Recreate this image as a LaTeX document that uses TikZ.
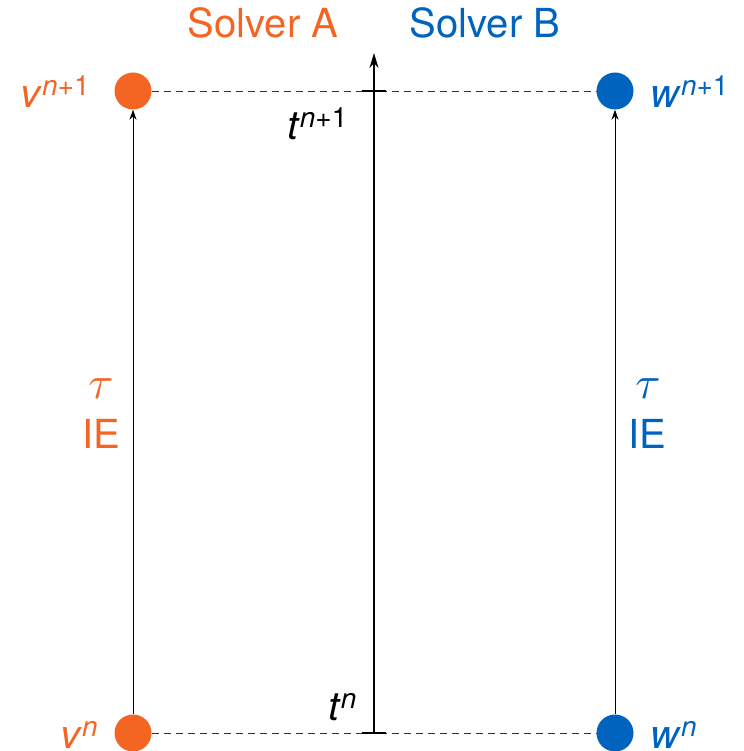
\documentclass[tikz,border=0pt]{standalone}
\usepackage{graphicx}
\usepackage{fontspec}
\setmainfont{TeX Gyre Heros}
\usetikzlibrary{arrows.meta}
\definecolor{solA}{RGB}{244,101,36}
\definecolor{solB}{RGB}{0,100,190}
\newcommand\supx[1]{\raisebox{12pt}{\fontsize{28}{32}\selectfont #1}}
\newcommand\bigtau{\scalebox{4.6}{\fontsize{10}{12}\selectfont$\tau$}}
\begin{document}
\begin{tikzpicture}[x=1pt,y=-1pt,
  big/.style={font=\fontsize{40}{48}\selectfont, inner sep=0pt},
  dotA/.style={circle, fill=solA, minimum size=37pt, inner sep=0pt},
  dotB/.style={circle, fill=solB, minimum size=37pt, inner sep=0pt},
  dashline/.style={draw=black!80, line width=0.9pt, dash pattern=on 7pt off 5pt},
  steparrow/.style={draw=black, line width=1pt, -{Stealth[length=10pt,width=7pt]}},
  axisline/.style={draw=black, line width=2pt},
  axisarrow/.style={axisline, -{Stealth[length=15pt,width=9pt]}}]
\useasboundingbox (0,0) rectangle (743,751);
% solver nodes
\node[dotA] (v1) at (133,91) {};
\node[dotA] (v0) at (133,733) {};
\node[dotB] (w1) at (615,91) {};
\node[dotB] (w0) at (615,733) {};
% time axis
\coordinate (tb) at (374,733);
\coordinate (tt) at (374,53);
\coordinate (tm) at (374,91);
\draw[dashline] (v1) -- (w1);
\draw[dashline] (v0) -- (w0);
\draw[axisarrow] (tb) -- (tt);
\draw[axisline] ([xshift=-12pt]tb) -- ([xshift=12pt]tb);
\draw[axisline] ([xshift=-12pt]tm) -- ([xshift=12pt]tm);
% steps
\draw[steparrow] (v0) -- (v1);
\draw[steparrow] (w0) -- (w1);
% labels
\node[big, text=solA, anchor=base] (sa) at (263,38) {Solver A};
\node[big, text=solB, anchor=base] (sb) at (485,38) {Solver B};
\node[big, text=solA, anchor=base west] (lv1) at (20,108) {\textit{v}\supx{\textit{n}+1}};
\node[big, text=solB, anchor=base west] (lw1) at (650,108) {\textit{w}\supx{\textit{n}+1}};
\node[big, text=solA, anchor=base west] (lv0) at (60,748) {\textit{v}\supx{\textit{n}}};
\node[big, text=solB, anchor=base west] (lw0) at (650,748) {\textit{w}\supx{\textit{n}}};
\node[big, text=black, anchor=base west] (lt1) at (287,140) {\textit{t}\supx{\textit{n}+1}};
\node[big, text=black, anchor=base west] (lt0) at (328,720) {\textit{t}\supx{\textit{n}}};
\node[big, text=solA, anchor=base] (tauA) at (101,398) {\bigtau};
\node[big, text=solA, anchor=base] (ieA) at (101,448) {IE};
\node[big, text=solB, anchor=base] (tauB) at (648,398) {\bigtau};
\node[big, text=solB, anchor=base] (ieB) at (647,448) {IE};
\end{tikzpicture}
\end{document}
